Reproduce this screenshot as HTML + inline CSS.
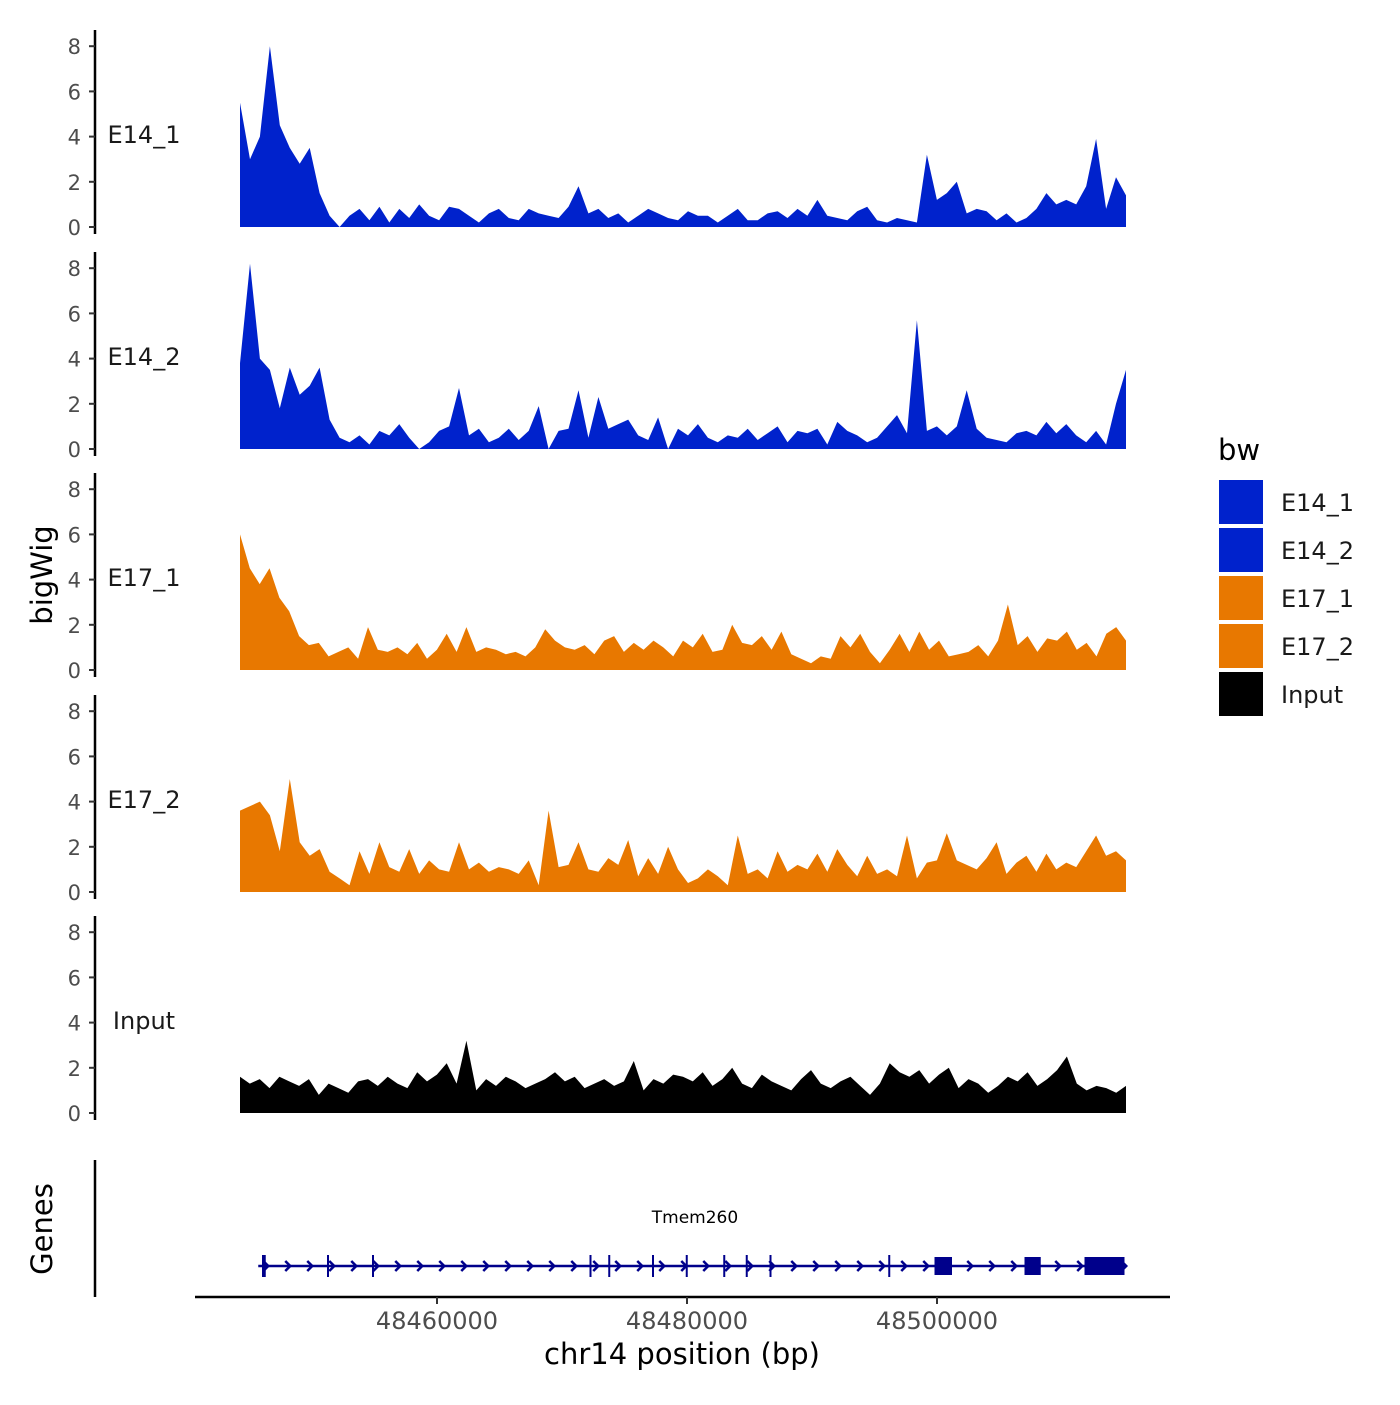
<!DOCTYPE html>
<html><head><meta charset="utf-8"><style>
html,body{margin:0;padding:0;background:#fff;}
svg text{font-family:"DejaVu Sans","Liberation Sans",sans-serif;}
</style></head><body>
<svg id="chart" width="1400" height="1400" viewBox="0 0 1400 1400" xmlns="http://www.w3.org/2000/svg">
<g id="tracks"></g>
<g id="genes"></g>
<g id="xaxis"></g>
<text x="52" y="575" font-size="29" text-anchor="middle" transform="rotate(-90 52 575)">bigWig</text>
<text x="52" y="1229" font-size="29" text-anchor="middle" transform="rotate(-90 52 1229)">Genes</text>
<text x="682" y="1364" font-size="29" text-anchor="middle">chr14 position (bp)</text>
<g id="legend"></g>
</svg>
<script>
const trackNames = ["E14_1","E14_2","E17_1","E17_2","Input"];
const trackColors = ["#0022cc","#0022cc","#e87800","#e87800","#000000"];
const yTicks = [0,2,4,6,8];
const xTicks = [48460000,48480000,48500000];
const xTickLabels = ["48460000","48480000","48500000"];
const regionStart = 48444240;
const regionEnd = 48515120;
const e14_1 = [5.5,3,4,8,4.5,3.5,2.8,3.5,1.5,0.5,0,0.5,0.8,0.3,0.9,0.2,0.8,0.4,1.0,0.5,0.3,0.9,0.8,0.5,0.2,0.6,0.8,0.4,0.3,0.8,0.6,0.5,0.4,0.9,1.8,0.6,0.8,0.4,0.6,0.2,0.5,0.8,0.6,0.4,0.3,0.7,0.5,0.5,0.2,0.5,0.8,0.3,0.3,0.6,0.7,0.4,0.8,0.5,1.2,0.5,0.4,0.3,0.7,0.9,0.3,0.2,0.4,0.3,0.2,3.2,1.2,1.5,2,0.6,0.8,0.7,0.3,0.6,0.2,0.4,0.8,1.5,1,1.2,1.0,1.8,3.9,0.8,2.2,1.4];
const e14_2 = [3.8,8.2,4,3.5,1.8,3.6,2.4,2.8,3.6,1.3,0.5,0.3,0.6,0.2,0.8,0.6,1.1,0.5,0,0.3,0.8,1.0,2.7,0.6,0.9,0.3,0.5,0.9,0.4,0.8,1.9,0,0.8,0.9,2.6,0.5,2.3,0.9,1.1,1.3,0.6,0.4,1.4,0,0.9,0.6,1.1,0.5,0.3,0.6,0.5,0.9,0.4,0.7,1.0,0.3,0.8,0.7,0.9,0.2,1.2,0.8,0.6,0.3,0.5,1.0,1.5,0.7,5.7,0.8,1.0,0.6,1.0,2.6,0.9,0.5,0.4,0.3,0.7,0.8,0.6,1.2,0.7,1.1,0.6,0.3,0.8,0.2,2.0,3.5];
const e17_1 = [6,4.5,3.8,4.5,3.2,2.6,1.5,1.1,1.2,0.6,0.8,1.0,0.5,1.9,0.9,0.8,1.0,0.7,1.2,0.5,0.9,1.6,0.8,1.9,0.8,1.0,0.9,0.7,0.8,0.6,1.0,1.8,1.3,1.0,0.9,1.1,0.7,1.3,1.5,0.8,1.2,0.9,1.3,1.0,0.6,1.3,1.0,1.6,0.8,0.9,2.0,1.2,1.1,1.5,0.9,1.7,0.7,0.5,0.3,0.6,0.5,1.5,1.0,1.6,0.8,0.3,0.9,1.6,0.8,1.7,0.9,1.3,0.6,0.7,0.8,1.1,0.6,1.3,2.9,1.1,1.5,0.8,1.4,1.3,1.7,0.9,1.2,0.6,1.6,1.9,1.3];
const e17_2 = [3.6,3.8,4,3.4,1.8,5,2.2,1.6,1.9,0.9,0.6,0.3,1.8,0.8,2.2,1.1,0.9,1.9,0.8,1.4,1.0,0.9,2.2,1.0,1.3,0.9,1.1,1.0,0.8,1.4,0.3,3.6,1.1,1.2,2.2,1.0,0.9,1.5,1.2,2.3,0.7,1.5,0.8,2.0,1.0,0.4,0.6,1.0,0.7,0.3,2.5,0.8,1.0,0.6,1.8,0.9,1.2,1.0,1.7,0.9,1.9,1.2,0.7,1.6,0.8,1.0,0.7,2.5,0.6,1.3,1.4,2.6,1.4,1.2,1.0,1.5,2.2,0.8,1.3,1.6,0.9,1.7,1.0,1.3,1.1,1.8,2.5,1.6,1.8,1.4];
const input = [1.6,1.3,1.5,1.1,1.6,1.4,1.2,1.5,0.8,1.3,1.1,0.9,1.4,1.5,1.2,1.6,1.3,1.1,1.8,1.4,1.7,2.2,1.3,3.2,1.0,1.5,1.2,1.6,1.4,1.1,1.3,1.5,1.8,1.4,1.6,1.1,1.3,1.5,1.2,1.4,2.3,1.0,1.5,1.3,1.7,1.6,1.4,1.8,1.2,1.5,2.0,1.3,1.1,1.7,1.4,1.2,1.0,1.5,1.9,1.3,1.1,1.4,1.6,1.2,0.8,1.3,2.2,1.8,1.6,1.9,1.3,1.7,2.0,1.1,1.5,1.3,0.9,1.2,1.6,1.4,1.8,1.2,1.5,1.9,2.5,1.3,1.0,1.2,1.1,0.9,1.2];
const geneName = "Tmem260";
const geneStart = 48445700;
const geneEnd = 48515100;
const exonStarts = [48446000,48451200,48454800,48472200,48473700,48477200,48479900,48482900,48484700,48486600,48496100,48499800,48507000,48511800];
const exonEnds   = [48446300,48451300,48454900,48472300,48473800,48477300,48480000,48483000,48484800,48486700,48496200,48501200,48508300,48515000];
const series = [e14_1,e14_2,e17_1,e17_2,input];

const NS="http://www.w3.org/2000/svg";
function mk(tag,attrs,parent){const e=document.createElementNS(NS,tag);for(const k in attrs)e.setAttribute(k,attrs[k]);parent.appendChild(e);return e;}
function xScale(bp){return 437+(bp-48460000)*250/20000;}
const trackZero=[227,449,670,892,1113];
function yScale(t,v){return trackZero[t]-v*22.6;}

const tracksG=document.getElementById('tracks');
series.forEach((vals,t)=>{
  const g=mk('g',{},tracksG);
  
  
  const ax=mk('line',{x1:95,x2:95,y1:trackZero[t]-197,y2:trackZero[t]+7,stroke:'#000','stroke-width':2.5},g);
  
  
  yTicks.forEach(v=>{
    const y=yScale(t,v);
    const tk=mk('line',{x1:89,x2:95,y1:y,y2:y,stroke:'#333','stroke-width':2},g);
    
    
    const tl=mk('text',{x:81,y:y+8,'font-size':21,fill:'#4d4d4d','text-anchor':'end'},g);
    tl.textContent=v;
    
    
  });
  const lab=mk('text',{x:144,y:trackZero[t]-84,'font-size':24,'text-anchor':'middle',fill:'#1a1a1a'},g);
  lab.textContent=trackNames[t];
  
  
  const n=vals.length;const step=(regionEnd-regionStart)/(n-1);
  let d='M'+xScale(regionStart)+','+yScale(t,0);
  vals.forEach((v,i)=>{d+=' L'+xScale(regionStart+i*step).toFixed(1)+','+yScale(t,v).toFixed(1);});
  d+=' L'+xScale(regionEnd)+','+yScale(t,0)+' Z';
  const p=mk('path',{d:d,fill:trackColors[t]},g);
  
  
});

const genesG=document.getElementById('genes');
const gax=mk('line',{x1:95,x2:95,y1:1160,y2:1297,stroke:'#000','stroke-width':2.5},genesG);


const gy=1266;
const gl=mk('line',{x1:xScale(geneStart),x2:xScale(geneEnd),y1:gy,y2:gy,stroke:'#00008b','stroke-width':2.5},genesG);


for(let x=xScale(geneStart)+8;x<xScale(geneEnd);x+=22){
  const c=mk('path',{d:`M${x-3},${gy-5} L${x+2},${gy} L${x-3},${gy+5}`,stroke:'#00008b','stroke-width':2.5,fill:'none'},genesG);
  
  
}
exonStarts.forEach((s,i)=>{
  const x1=xScale(s),x2=xScale(exonEnds[i]);
  const wide=x2-x1>4;
  const r=mk('rect',{x:x1,y:wide?gy-9:gy-11,width:Math.max(x2-x1,2),height:wide?18:22,fill:'#00008b'},genesG);
  
  
});
const gn=mk('text',{x:695,y:1223,'font-size':17,'text-anchor':'middle'},genesG);
gn.textContent=geneName;



const xa=document.getElementById('xaxis');
const xl=mk('line',{x1:195,x2:1170,y1:1297,y2:1297,stroke:'#000','stroke-width':2.5},xa);


xTicks.forEach((b,i)=>{
  const x=xScale(b);
  const t=mk('line',{x1:x,x2:x,y1:1297,y2:1304,stroke:'#333','stroke-width':2},xa);
  
  
  const tl=mk('text',{x:x,y:1329,'font-size':24,fill:'#4d4d4d','text-anchor':'middle'},xa);
  tl.textContent=xTickLabels[i];
  
  
});

const lg=document.getElementById('legend');
const lt=mk('text',{x:1218,y:460,'font-size':29},lg);
lt.textContent='bw';


trackNames.forEach((nm,i)=>{
  const y=480+i*48;
  const r=mk('rect',{x:1219,y:y,width:44,height:44,fill:trackColors[i]},lg);
  
  
  const tx=mk('text',{x:1281,y:y+31,'font-size':24,fill:'#1a1a1a'},lg);
  tx.textContent=nm;
  
  
});
</script>
</body></html>
